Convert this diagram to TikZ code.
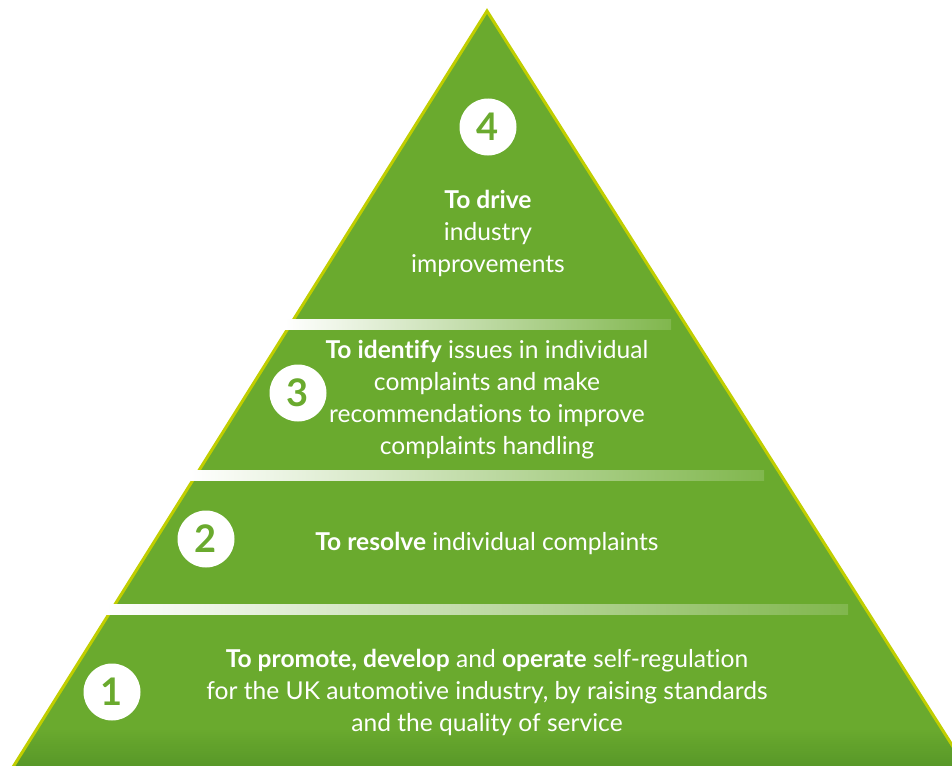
\documentclass[tikz,border=0pt]{standalone}
\usepackage{fontspec}
\setmainfont{Lato}[Ligatures=NoCommon]
\definecolor{pgreen}{RGB}{106,170,46}
\definecolor{pdark}{RGB}{88,152,40}
\definecolor{pedge}{RGB}{192,206,0}
\tikzset{
  txt/.style={text=white, align=center, font=\fontsize{24.6}{32}\selectfont, inner sep=0pt},
  num/.style={circle, fill=white, minimum size=57pt, inner sep=0pt, text=pgreen, font=\fontsize{38}{38}\selectfont\bfseries},
  band/.style={left color=white, right color=pgreen!85!white}
}
\begin{document}
\begin{tikzpicture}[x=1pt,y=-1pt]
\useasboundingbox (0,0) rectangle (952,765);
\clip (0,0) rectangle (952,765);
\coordinate (apex) at (487,11);
\coordinate (bl) at (8,775);
\coordinate (br) at (971,775);
\fill[pgreen] (apex) -- (bl) -- (br) -- cycle;
\begin{scope}
  \clip (apex) -- (bl) -- (br) -- cycle;
  \shade[top color=pgreen, bottom color=pdark] (0,728) rectangle (952,766);
\end{scope}
\draw[pedge, line width=3pt] (bl) -- (apex) -- (br);
% separator bands
\shade[band] (285,319) rectangle (671,329);
\shade[band] (190,470) rectangle (764,480);
\shade[band] (106,604) rectangle (848,614);
% numbers
\node[num] (n4) at (488,127) {4};
\node[num] (n3) at (298,393) {3};
\node[num] (n2) at (206,539) {2};
\node[num] (n1) at (112,692) {1};
% texts
\node[txt] (t4) at (488,233) {\textbf{To drive}\\industry\\improvements};
\node[txt] (t3) at (487,400) {\textbf{To identify} issues in individual\\complaints and make\\recommendations to improve\\complaints handling};
\node[txt] (t2) at (487,543) {\textbf{To resolve} individual complaints};
\node[txt] (t1) at (487,692) {\textbf{To promote, develop} and \textbf{operate} self-regulation\\for the UK automotive industry, by raising standards\\and the quality of service};
\end{tikzpicture}
\end{document}
